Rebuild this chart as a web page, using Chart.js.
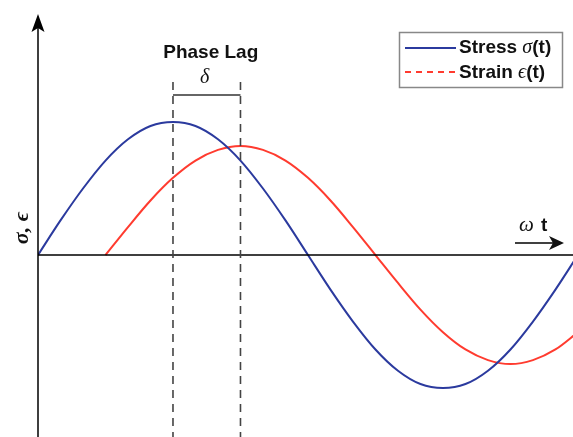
<!DOCTYPE html>
<html>
<head>
<meta charset="utf-8">
<script src="https://cdn.jsdelivr.net/npm/chart.js@4.4.1/dist/chart.umd.min.js"></script>
<style>
  html, body { margin: 0; padding: 0; background: #fff; }
  #wrap { width: 573px; height: 437px; }
</style>
</head>
<body>
<div id="wrap"><canvas id="chart" width="573" height="437"></canvas></div>
<script>
// phase angle ωt in degrees
const stressAngles = [0, 15, 30, 45, 60, 75, 90, 105, 120, 135, 150, 165, 180, 195, 210, 225, 240, 255, 270, 285, 300, 315, 330, 345, 360];
const stressValues = [0, 0.26, 0.5, 0.71, 0.87, 0.97, 1, 0.97, 0.87, 0.71, 0.5, 0.26, 0, -0.26, -0.5, -0.71, -0.87, -0.97, -1, -0.97, -0.87, -0.71, -0.5, -0.26, 0];

const strainAngles = [45, 60, 75, 90, 105, 120, 135, 150, 165, 180, 195, 210, 225, 240, 255, 270, 285, 300, 315, 330, 345, 360];
const strainValues = [0, 0.21, 0.41, 0.58, 0.71, 0.79, 0.82, 0.79, 0.71, 0.58, 0.41, 0.21, 0, -0.21, -0.41, -0.58, -0.71, -0.79, -0.82, -0.79, -0.71, -0.58];

// peaks marked by the phase lag bracket
const lagMarks = [90, 135];

const BLUE = '#2b3a9e';
const RED = '#ff3b2f';
const SANS = '"Liberation Sans", Arial, sans-serif';
const SERIF = '"Liberation Serif", serif';

const toPoints = (xs, ys) => xs.map((x, i) => ({ x: x, y: ys[i] }));

const overlay = {
  id: 'overlay',
  afterDatasetsDraw(chart) {
    const { ctx, scales: { x, y }, chartArea } = chart;
    const x0 = x.getPixelForValue(0);
    const y0 = y.getPixelForValue(0);
    ctx.save();

    // axes
    ctx.strokeStyle = '#000';
    ctx.lineWidth = 1.5;
    ctx.beginPath();
    ctx.moveTo(chartArea.left, y0);
    ctx.lineTo(chartArea.right, y0);
    ctx.moveTo(x0, chartArea.bottom);
    ctx.lineTo(x0, 26);
    ctx.stroke();
    ctx.fillStyle = '#000';
    ctx.beginPath();
    ctx.moveTo(x0, 14);
    ctx.lineTo(x0 + 6.5, 32);
    ctx.lineTo(x0, 28);
    ctx.lineTo(x0 - 6.5, 32);
    ctx.closePath();
    ctx.fill();

    // phase lag dashed markers + bracket
    const px = lagMarks.map(v => x.getPixelForValue(v));
    ctx.strokeStyle = '#444';
    ctx.lineWidth = 1.6;
    ctx.setLineDash([8, 6]);
    ctx.beginPath();
    px.forEach(p => { ctx.moveTo(p, 82); ctx.lineTo(p, chartArea.bottom); });
    ctx.stroke();
    ctx.setLineDash([]);
    ctx.strokeStyle = '#666';
    ctx.lineWidth = 2;
    ctx.beginPath();
    ctx.moveTo(px[0], 95);
    ctx.lineTo(px[1], 95);
    ctx.stroke();

    ctx.fillStyle = '#111';
    ctx.textAlign = 'center';
    ctx.textBaseline = 'middle';
    ctx.font = 'bold 19px ' + SANS;
    ctx.fillText('Phase Lag', (px[0] + px[1]) / 2 + 4, 53);
    ctx.font = 'italic 20px ' + SERIF;
    ctx.fillText('δ', (px[0] + px[1]) / 2 - 2, 78);

    // ωt arrow
    ctx.strokeStyle = '#000';
    ctx.lineWidth = 1.5;
    ctx.beginPath();
    ctx.moveTo(515, 243);
    ctx.lineTo(556, 243);
    ctx.stroke();
    ctx.beginPath();
    ctx.moveTo(564, 243);
    ctx.lineTo(549, 236);
    ctx.lineTo(553, 243);
    ctx.lineTo(549, 250);
    ctx.closePath();
    ctx.fill();
    ctx.textAlign = 'left';
    ctx.textBaseline = 'alphabetic';
    ctx.font = 'italic 21px ' + SERIF;
    ctx.fillText('ω', 519, 231);
    ctx.font = 'bold 19px ' + SANS;
    ctx.fillText('t', 541, 231);

    // y axis label
    ctx.save();
    ctx.translate(28, 228);
    ctx.rotate(-Math.PI / 2);
    ctx.textAlign = 'center';
    ctx.font = 'bold italic 22px ' + SERIF;
    ctx.fillText('σ, ϵ', 0, 0);
    ctx.restore();

    // legend
    ctx.strokeStyle = '#888';
    ctx.lineWidth = 1.5;
    ctx.strokeRect(399.5, 32.5, 163, 55);
    ctx.lineWidth = 2;
    ctx.strokeStyle = BLUE;
    ctx.beginPath();
    ctx.moveTo(405, 48);
    ctx.lineTo(456, 48);
    ctx.stroke();
    ctx.strokeStyle = RED;
    ctx.setLineDash([6, 5]);
    ctx.beginPath();
    ctx.moveTo(405, 72);
    ctx.lineTo(456, 72);
    ctx.stroke();
    ctx.setLineDash([]);
    ctx.fillStyle = '#111';
    ctx.textBaseline = 'middle';
    const legendRow = (label, sym, yPos) => {
      ctx.font = 'bold 19px ' + SANS;
      ctx.fillText(label, 459, yPos);
      let cx = 459 + ctx.measureText(label).width;
      ctx.font = 'italic 20px ' + SERIF;
      ctx.fillText(sym, cx, yPos);
      cx += ctx.measureText(sym).width;
      ctx.font = 'bold 19px ' + SANS;
      ctx.fillText('(t)', cx, yPos);
    };
    legendRow('Stress ', 'σ', 48);
    legendRow('Strain ', 'ϵ', 73);

    ctx.restore();
  }
};

new Chart(document.getElementById('chart'), {
  type: 'line',
  data: {
    datasets: [
      {
        label: 'Stress σ(t)',
        data: toPoints(stressAngles, stressValues),
        borderColor: BLUE,
        borderWidth: 2,
        pointRadius: 0,
        cubicInterpolationMode: 'monotone'
      },
      {
        label: 'Strain ϵ(t)',
        data: toPoints(strainAngles, strainValues),
        borderColor: RED,
        borderWidth: 2,
        pointRadius: 0,
        cubicInterpolationMode: 'monotone'
      }
    ]
  },
  options: {
    responsive: false,
    animation: false,
    layout: { padding: { left: 38, right: 0, top: 0, bottom: 0 } },
    scales: {
      x: { type: 'linear', min: 0, max: 356.7, display: false },
      y: { min: -1.368, max: 1.917, display: false }
    },
    plugins: {
      legend: { display: false },
      tooltip: { enabled: false }
    }
  },
  plugins: [overlay]
});
</script>
</body>
</html>
